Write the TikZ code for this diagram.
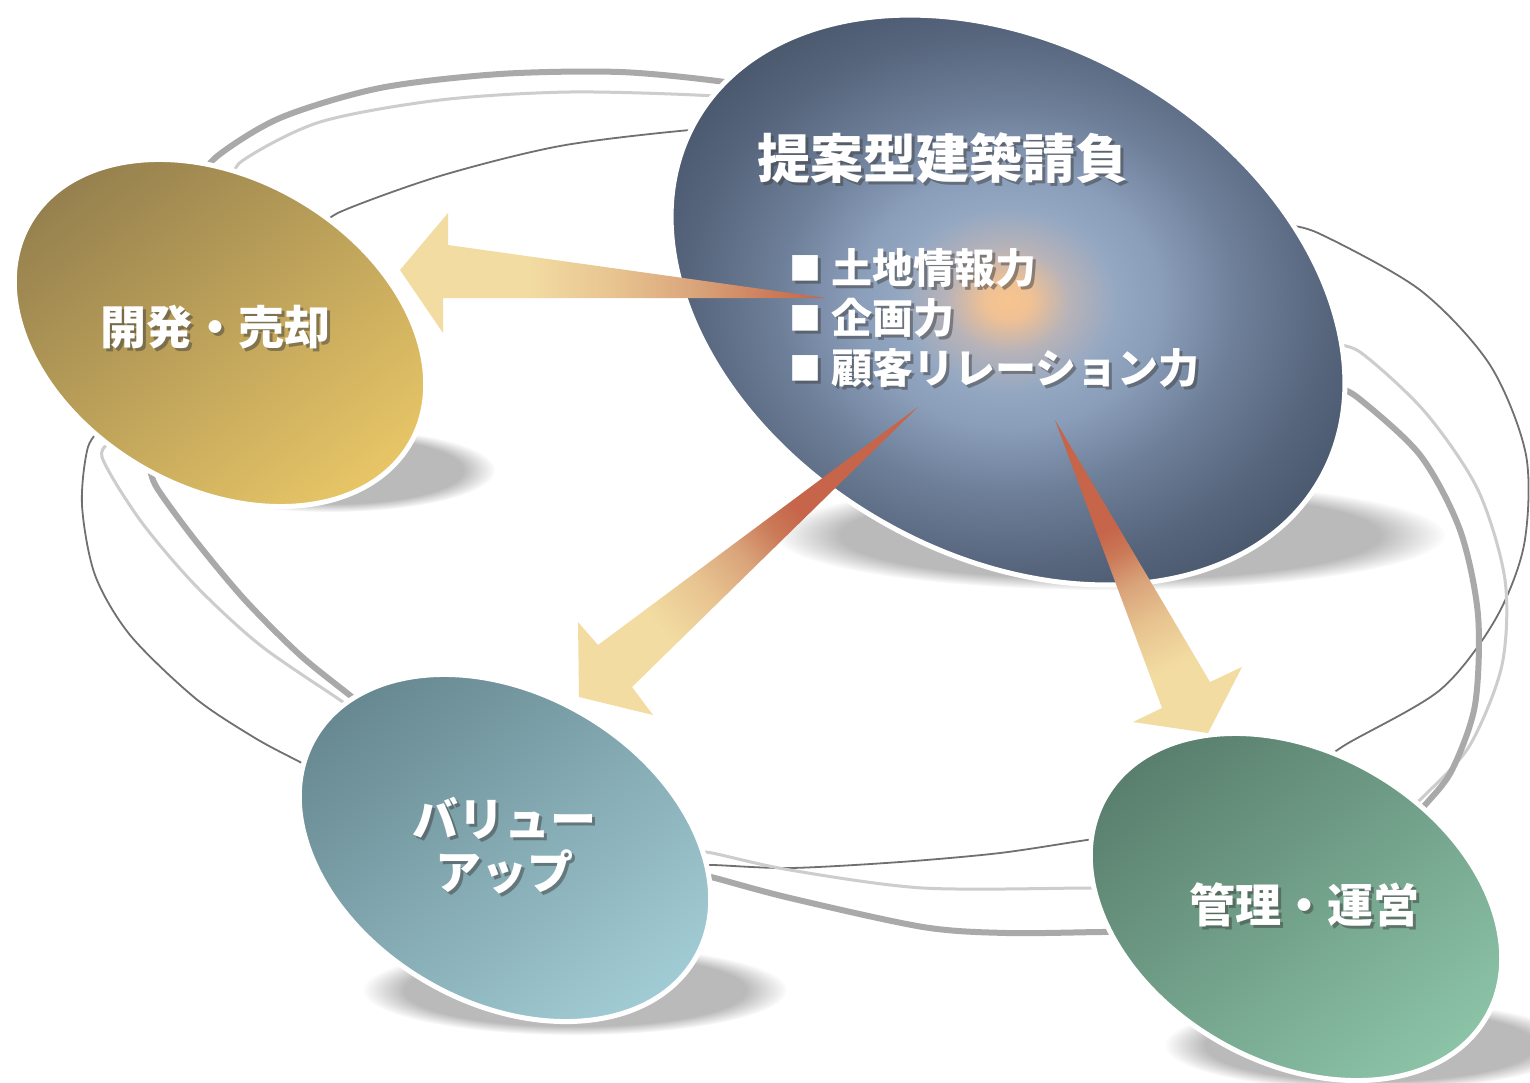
\documentclass[tikz,border=0pt]{standalone}
\usepackage{fontspec}
\newfontfamily\jp{Noto Sans CJK JP}
\usetikzlibrary{fadings,calc}

\definecolor{cg0}{HTML}{F6C48E}
\definecolor{cg1}{HTML}{F0C194}
\definecolor{cg2}{HTML}{B8B3B8}
\definecolor{cg3}{HTML}{95A8C2}
\definecolor{cg4}{HTML}{8A9DB9}
\definecolor{cg5}{HTML}{6E7F99}
\definecolor{cg6}{HTML}{56657C}
\definecolor{cg7}{HTML}{4B596F}

\definecolor{goldA}{HTML}{95804E}
\definecolor{goldB}{HTML}{C6AA60}
\definecolor{goldC}{HTML}{E8C667}
\definecolor{tealA}{HTML}{678890}
\definecolor{tealB}{HTML}{7FA5AD}
\definecolor{tealC}{HTML}{A2CCD5}
\definecolor{grnA}{HTML}{597E6D}
\definecolor{grnB}{HTML}{6E9F88}
\definecolor{grnC}{HTML}{8CC4A8}

\definecolor{apale}{HTML}{F2DCA2}
\definecolor{alight}{HTML}{E8C490}
\definecolor{amid}{HTML}{D9A37A}
\definecolor{adeep}{HTML}{CB7A58}
\definecolor{aorange}{HTML}{C6654A}

\definecolor{rthick}{HTML}{A9A9A9}
\definecolor{rlight}{HTML}{CDCDCD}
\definecolor{rdark}{HTML}{707070}

\pgfdeclareradialshading{centralglow}{\pgfpoint{0bp}{0bp}}{%
color(0bp)=(cg0); color(1.5bp)=(cg1); color(4bp)=(cg2); color(7bp)=(cg3);
color(10bp)=(cg4); color(15bp)=(cg5); color(21bp)=(cg6); color(25bp)=(cg7); color(50bp)=(cg7)}

\pgfdeclareverticalshading{arrowsh}{100bp}{%
color(0bp)=(apale); color(25bp)=(apale); color(40bp)=(apale);
color(50bp)=(alight); color(60bp)=(amid); color(69bp)=(adeep); color(75bp)=(aorange); color(100bp)=(aorange)}

\pgfdeclareverticalshading{arrowshdiag}{100bp}{%
color(0bp)=(apale); color(25bp)=(apale); color(33bp)=(apale);
color(42bp)=(alight); color(50bp)=(amid); color(56bp)=(adeep); color(61bp)=(aorange); color(100bp)=(aorange)}

\newcommand\shtext[4]{%
  \node[#2, text=black!75, opacity=.5] at ($(#1)+(3,3)$) {#4};
  \node[#2] (#3) at (#1) {#4};}

\begin{document}
\begin{tikzpicture}[x=1pt,y=-1pt,
  ringthick/.style={draw=rthick, line width=6pt},
  ringlight/.style={draw=rlight, line width=3pt},
  ringdark/.style={draw=rdark, line width=1.8pt},
  floorshadow/.style={fill=black!27, path fading=circle with fuzzy edge 20 percent},
  rim/.style={draw=white, line width=5pt},
  lbl/.style={font=\jp\bfseries\fontsize{46}{53}\selectfont, text=white, inner sep=0pt, align=center},
  ttl/.style={font=\jp\bfseries\fontsize{53}{60}\selectfont, text=white, inner sep=0pt},
  blt/.style={font=\jp\bfseries\fontsize{41}{46}\selectfont, text=white, inner sep=0pt, anchor=west},
  arrowfill/.style={shading=arrowsh},
  arrowdiag/.style={shading=arrowshdiag}
]
\useasboundingbox (0,0) rectangle (1530,1082);
\fill[white] (0,0) rectangle (1530,1082);

% floor shadows
\fill[floorshadow] (1110,535) ellipse [x radius=335, y radius=55];
\fill[floorshadow] (330,470) ellipse [x radius=165, y radius=42];
\fill[floorshadow] (575,990) ellipse [x radius=212, y radius=45];
\fill[floorshadow] (1370,1045) ellipse [x radius=205, y radius=45];

% ring lines
\draw[ringthick] plot[smooth] coordinates {(200,185) (215,158) (280,118) (380,88) (500,74) (620,72) (725,82) (790,95)};
\draw[ringlight] plot[smooth] coordinates {(232,185) (242,161) (320,122) (440,100) (570,92) (715,96) (790,105)};
\draw[ringdark] plot[smooth] coordinates {(320,230) (340,212) (440,176) (560,146) (690,130) (760,128)};

\draw[ringdark] plot[smooth] coordinates {(1280,225) (1318,233) (1420,290) (1490,365) (1526,455) (1524,545) (1495,620) (1440,690) (1345,745) (1315,768)};
\draw[ringlight] plot[smooth] coordinates {(1330,345) (1360,352) (1425,412) (1478,490) (1505,580) (1502,665) (1470,745) (1425,795) (1405,812)};
\draw[ringthick] plot[smooth] coordinates {(1335,388) (1357,397) (1420,455) (1460,530) (1478,615) (1475,705) (1452,770) (1425,805) (1405,825)};

\draw[ringdark] plot[smooth] coordinates {(105,425) (88,447) (82,505) (95,575) (130,635) (195,698) (255,738) (300,762) (325,775)};
\draw[ringlight] plot[smooth] coordinates {(115,440) (102,457) (140,520) (195,585) (260,645) (340,700) (362,716)};
\draw[ringthick] plot[smooth] coordinates {(150,468) (157,488) (195,540) (245,600) (300,655) (352,697) (372,714)};

\draw[ringdark] plot[smooth] coordinates {(690,866) (713,865) (790,868) (900,862) (1000,853) (1087,840) (1112,838)};
\draw[ringlight] plot[smooth] coordinates {(690,851) (712,853) (790,870) (923,888) (1087,888) (1112,888)};
\draw[ringthick] plot[smooth] coordinates {(690,872) (715,878) (790,898) (923,927) (1007,933) (1100,932) (1125,932)};

% ellipses
\coordinate (cC) at (1008,300);
\coordinate (cG) at (220,333);
\coordinate (cT) at (505,848);
\coordinate (cN) at (1296,907);

\begin{scope}[shift={(cG)}, rotate=-30]
  \shade[shading=axis, top color=goldA, middle color=goldB, bottom color=goldC, shading angle=38] (0,0) ellipse [x radius=220, y radius=155];
  \draw[rim] (0,0) ellipse [x radius=220, y radius=155];
\end{scope}
\begin{scope}[shift={(cT)}, rotate=-30]
  \shade[shading=axis, top color=tealA, middle color=tealB, bottom color=tealC, shading angle=38] (0,0) ellipse [x radius=220, y radius=155];
  \draw[rim] (0,0) ellipse [x radius=220, y radius=155];
\end{scope}
\begin{scope}[shift={(cN)}, rotate=-30]
  \shade[shading=axis, top color=grnA, middle color=grnB, bottom color=grnC, shading angle=38] (0,0) ellipse [x radius=220, y radius=155];
  \draw[rim] (0,0) ellipse [x radius=220, y radius=155];
\end{scope}
\begin{scope}[shift={(cC)}, rotate=-30]
  \shade[shading=centralglow] (0,0) ellipse [x radius=360, y radius=255];
  \draw[rim] (0,0) ellipse [x radius=360, y radius=255];
\end{scope}

% arrows
\shade[arrowfill, shading angle=-90] (826,298) -- (448,245) -- (448,213) -- (400,270) -- (443,333) -- (443,298) -- cycle;
\shade[arrowdiag, shading angle=-49] (918,407) -- (598,645) -- (578,622) -- (579,697) -- (653,715) -- (632,687) -- cycle;
\shade[arrowdiag, shading angle=26] (1055,420) -- (1162,708) -- (1133,722) -- (1208,733) -- (1242,667) -- (1210,682) -- cycle;

% texts
\shtext{943,158}{ttl}{title}{提案型建築請負}
\shtext{789,268}{blt}{b1}{\raisebox{3pt}{\fontsize{32}{32}\selectfont ■}\hspace{10pt}土地情報力}
\shtext{789,318}{blt}{b2}{\raisebox{3pt}{\fontsize{32}{32}\selectfont ■}\hspace{10pt}企画力}
\shtext{789,368}{blt}{b3}{\raisebox{3pt}{\fontsize{32}{32}\selectfont ■}\hspace{10pt}顧客リレーション力}
\shtext{215,327}{lbl}{dev}{開発・売却}
\shtext{504,846}{lbl}{val}{バリュー\\アップ}
\shtext{1304,905}{lbl}{mgt}{管理・運営}
\end{tikzpicture}
\end{document}
